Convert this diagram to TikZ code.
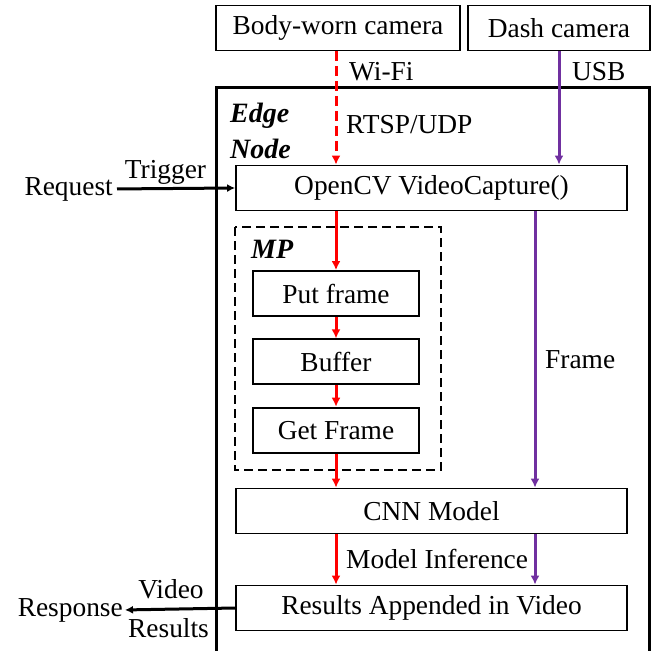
\documentclass[tikz,border=0pt]{standalone}
\usepackage{fontspec}
\setmainfont{Liberation Serif}
\usepackage{tikz}
\usetikzlibrary{positioning,arrows.meta}
\definecolor{usbpurple}{RGB}{112,48,160}

\begin{document}
\begin{tikzpicture}[x=1pt,y=1pt,>={Latex[length=9pt,width=9pt]},node distance=21.5pt,font=\fontsize{27.4}{36}\selectfont,block/.style={draw,line width=1.8pt,minimum height=45pt,inner sep=0pt},label node/.style={inner sep=0pt},wifi/.style={->,red,line width=3pt},usb/.style={->,usbpurple,line width=3pt},link/.style={-{Latex[length=8pt,width=8pt]},black,line width=3pt}]
		
		\useasboundingbox (0,0) rectangle (652,-650);
		
		\node[block,minimum width=244pt] (1) at (338,-28) {Body-worn camera};
		\node[block,minimum width=182pt] (2) at (559,-28) {Dash camera};
		\node[block,minimum width=391pt] (3) at (431.5,-188) {OpenCV VideoCapture()};
		\node[block,minimum width=166pt] (4) at (336,-293.5) {Put frame};
		\node[block,minimum width=166pt] (5) [below = of 4] {Buffer};
		\node[block,minimum width=166pt] (6) [below = of 5] {Get Frame};
		\node[block,minimum width=391pt] (7) at (431.5,-511) {CNN Model};
		\node[block,minimum width=391pt] (8) at (431.5,-608) {Results Appended in Video};
		
		\draw[line width=3pt] (216,-656) |- (649,-88) -- (649,-656);
		\draw[line width=2.8pt,dash pattern=on 9pt off 5pt] (235,-227) rectangle (441,-470);
		
		\node[label node,anchor=west,align=left,font=\fontsize{28}{36}\selectfont\bfseries\itshape] (edge) at (230,-131) {Edge\\Node};
		\node[label node,anchor=base west,font=\fontsize{28}{36}\selectfont\bfseries\itshape] (mp) at (251,-258) {MP};
		
		\node[label node,anchor=base west] (wifi) at (349,-81) {Wi-Fi};
		\node[label node,anchor=base west] (usb) at (572,-81) {USB};
		\node[label node,anchor=base west] (rtsp) at (346,-133) {RTSP/UDP};
		\node[label node,anchor=base west] (frame) at (545,-368) {Frame};
		\node[label node,anchor=base west] (infer) at (346,-568) {Model Inference};
		
		\node[label node,anchor=base east] (9) at (113,-195) {Request};
		\node[label node,anchor=base] (trig) at (165.5,-178) {Trigger};
		\node[label node,anchor=base east] (10) at (123,-616) {Response};
		\node[label node,anchor=base] (vid) at (171,-598) {Video};
		\node[label node,anchor=base] (res) at (168.5,-637) {Results};
		
		\draw[wifi,dash pattern=on 10pt off 5pt] (1.south -| 4) -- (3.north -| 4);
		\draw[usb] (2.south) -- (3.north -| 2);
		
		\draw[wifi] (3.south -| 4) -- (4.north);
		\draw[wifi] (4) -- (5);
		\draw[wifi] (5) -- (6);
		\draw[wifi] (6) -- (7.north -| 6);
		\draw[wifi] (7.south -| 6) -- (8.north -| 6);
		
		\draw[usb] ([xshift=103.5pt]3.south) -- ([xshift=103.5pt]7.north);
		\draw[usb] ([xshift=103.5pt]7.south) -- ([xshift=103.5pt]8.north);
		
		\draw[link] ([xshift=4pt]9.east) -- (3.west);
		\draw[link] (8.west) -- ([xshift=2pt]10.east);
		
		\end{tikzpicture}
\end{document}
